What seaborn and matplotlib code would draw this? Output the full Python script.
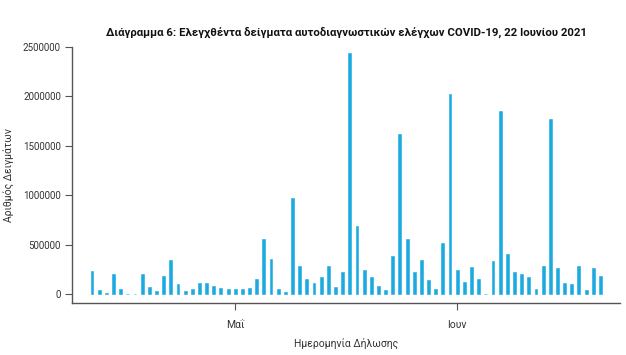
import matplotlib
matplotlib.use("Agg")
import matplotlib.pyplot as plt
import matplotlib.dates as mdates
import seaborn as sns
import pandas as pd
import numpy as np

start_date = "2021-04-11"
samples = [236000, 37000, 10000, 202000, 54000, 5000, 3000, 202000, 71000, 36000,
           185000, 344000, 104000, 36000, 54000, 111000, 111000, 81000, 61000, 47000,
           47000, 54000, 64000, 152000, 560000, 357000, 50000, 26000, 972000, 280000,
           155000, 111000, 175000, 283000, 67000, 226000, 2440000, 694000, 239000, 172000,
           81000, 37000, 385000, 1622000, 560000, 219000, 340000, 138000, 50000, 519000,
           2024000, 246000, 118000, 276000, 148000, 5000, 334000, 1848000, 408000, 219000,
           202000, 178000, 47000, 280000, 1774000, 266000, 114000, 104000, 283000, 40000,
           259000, 185000]
tick_dates = ["2021-05-01", "2021-06-01"]
tick_labels = ["Μαΐ", "Ιουν"]
y_ticks = [0, 500000, 1000000, 1500000, 2000000, 2500000]
title = "Διάγραμμα 6: Ελεγχθέντα δείγματα αυτοδιαγνωστικών ελέγχων COVID-19, 22 Ιουνίου 2021"
x_label = "Ημερομηνία Δήλωσης"
y_label = "Αριθμός Δειγμάτων"

dates = pd.date_range(start_date, periods=len(samples), freq="D")
df = pd.DataFrame({"x": mdates.date2num(dates.to_pydatetime()), "y": samples})

sns.set_theme(style="white")
plt.rcParams["font.family"] = ["Roboto", "DejaVu Sans"]

fig = plt.figure(figsize=(6.26, 3.55), dpi=100)
ax = fig.add_axes([0.115, 0.1465, 0.875, 0.7211])

sns.barplot(data=df, x="x", y="y", native_scale=True, width=0.4,
            color="#1BAAE0", saturation=1, edgecolor="#1BAAE0", linewidth=0.4, ax=ax)

ax.set_xlim(mdates.date2num(pd.Timestamp("2021-04-08").to_pydatetime()) + 0.2,
            mdates.date2num(pd.Timestamp("2021-06-23").to_pydatetime()) + 0.7)
ax.set_ylim(-90000, 2500000)
ax.set_yticks(y_ticks)
ax.set_yticklabels([str(v) for v in y_ticks], fontsize=7, color="#333333")
ax.set_xticks(mdates.date2num(pd.to_datetime(tick_dates).to_pydatetime()))
ax.set_xticklabels(tick_labels, fontsize=7.5, color="#333333")

for s in ["top", "right"]:
    ax.spines[s].set_visible(False)
for s in ["left", "bottom"]:
    ax.spines[s].set_color("#555555")
    ax.spines[s].set_linewidth(1.0)
ax.spines["left"].set_bounds(-90000, 2500000)
ax.tick_params(axis="both", which="both", direction="out", length=5, width=0.8,
               color="#555555", left=True, bottom=True)
ax.tick_params(axis="x", pad=7)
ax.tick_params(axis="y", pad=3)

ax.set_xlabel(x_label, fontsize=7.5, color="#333333", labelpad=6)
ax.set_ylabel(y_label, fontsize=7.5, color="#333333", labelpad=6)
fig.text(0.553, 0.91, title, ha="center", va="center", fontsize=8.2,
         fontweight="bold", color="#111111")

fig.savefig("out.png", dpi=100)
